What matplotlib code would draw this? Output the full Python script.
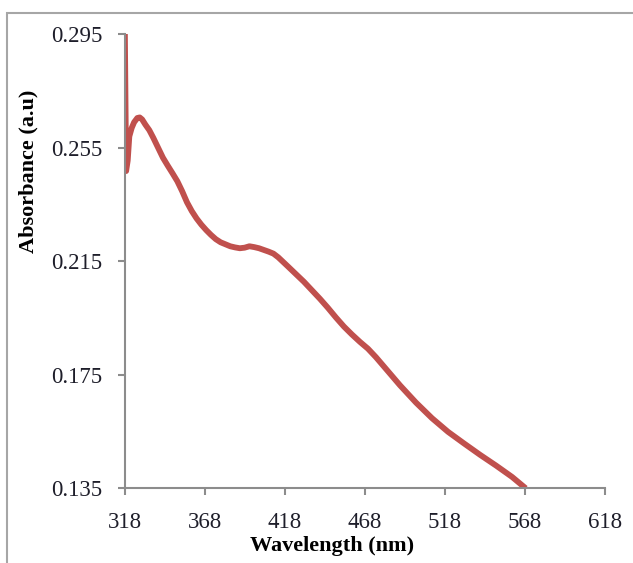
import matplotlib
matplotlib.use("Agg")
import matplotlib.pyplot as plt
from matplotlib.patches import Rectangle

wavelength = [318, 319, 320, 321, 322.5, 324, 326, 327.5, 329, 331, 333.5, 336, 339, 342,
              345, 348, 351, 354, 357, 360, 363, 366, 369, 372, 375, 378, 381, 384, 387,
              390, 393, 396, 399, 402, 405, 408, 411, 414, 417, 420, 425, 430, 435, 440,
              445, 450, 455, 460, 465, 470, 475, 480, 490, 500, 510, 520, 530, 540, 550,
              560, 568.5]
absorbance = [0.310, 0.2468, 0.2505, 0.2590, 0.2620, 0.2640, 0.2655, 0.2657, 0.2650, 0.2632,
              0.2612, 0.2585, 0.2550, 0.2515, 0.2487, 0.2460, 0.2432, 0.2397, 0.2358, 0.2327,
              0.2301, 0.2279, 0.2260, 0.2243, 0.2228, 0.2217, 0.2210, 0.2203, 0.2199, 0.2196,
              0.2198, 0.2203, 0.2200, 0.2196, 0.2190, 0.2184, 0.2177, 0.2164, 0.2148, 0.2132,
              0.2105, 0.2078, 0.2048, 0.2018, 0.1986, 0.1952, 0.1920, 0.1892, 0.1866, 0.1842,
              0.1812, 0.1779, 0.1713, 0.1652, 0.1597, 0.1549, 0.1508, 0.1468, 0.1430, 0.1390,
              0.1350]

xticks = [318, 368, 418, 468, 518, 568, 618]
yticks = [0.135, 0.175, 0.215, 0.255, 0.295]
ytick_labels = ["0.135", "0.175", "0.215", "0.255", "0.295"]

plt.rcParams['font.family'] = ['Liberation Serif', 'DejaVu Serif']

fig = plt.figure(figsize=(6.33, 5.63), dpi=100)
ax = fig.add_axes([124.5 / 633, (563 - 488.3) / 563, 480.5 / 633, 454 / 563])

ax.plot(wavelength, absorbance, color='#C0504D', lw=4.2, solid_joinstyle='round',
        solid_capstyle='butt')

ax.set_xlim(318, 618)
ax.set_ylim(0.135, 0.295)
ax.set_xticks(xticks)
ax.set_xticklabels([str(t) for t in xticks])
ax.set_yticks(yticks)
ax.set_yticklabels(ytick_labels)

for s in ['top', 'right']:
    ax.spines[s].set_visible(False)
for s in ['left', 'bottom']:
    ax.spines[s].set_color('#8c8c8c')
    ax.spines[s].set_linewidth(1.5)

ax.tick_params(direction='out', length=5, width=1.5, color='#8c8c8c',
               labelsize=16.5, labelcolor='#1e1e2a')
ax.tick_params(axis='y', pad=11)
ax.tick_params(axis='x', pad=12)

ax.set_xlabel('Wavelength (nm)', fontsize=16, fontweight='bold', va='center')
ax.xaxis.set_label_coords(0.432, -0.127)
ax.set_ylabel('Absorbance (a.u)', fontsize=16, fontweight='bold', va='center')
ax.yaxis.set_label_coords(-0.199, 0.698)

fig.patches.append(Rectangle((7.5 / 633, -0.1), 1.2, (563 - 12.7) / 563 + 0.1,
                             transform=fig.transFigure, fill=False,
                             edgecolor='#a6a6a6', lw=1.5, zorder=0))

fig.savefig('out.png', dpi=100)
